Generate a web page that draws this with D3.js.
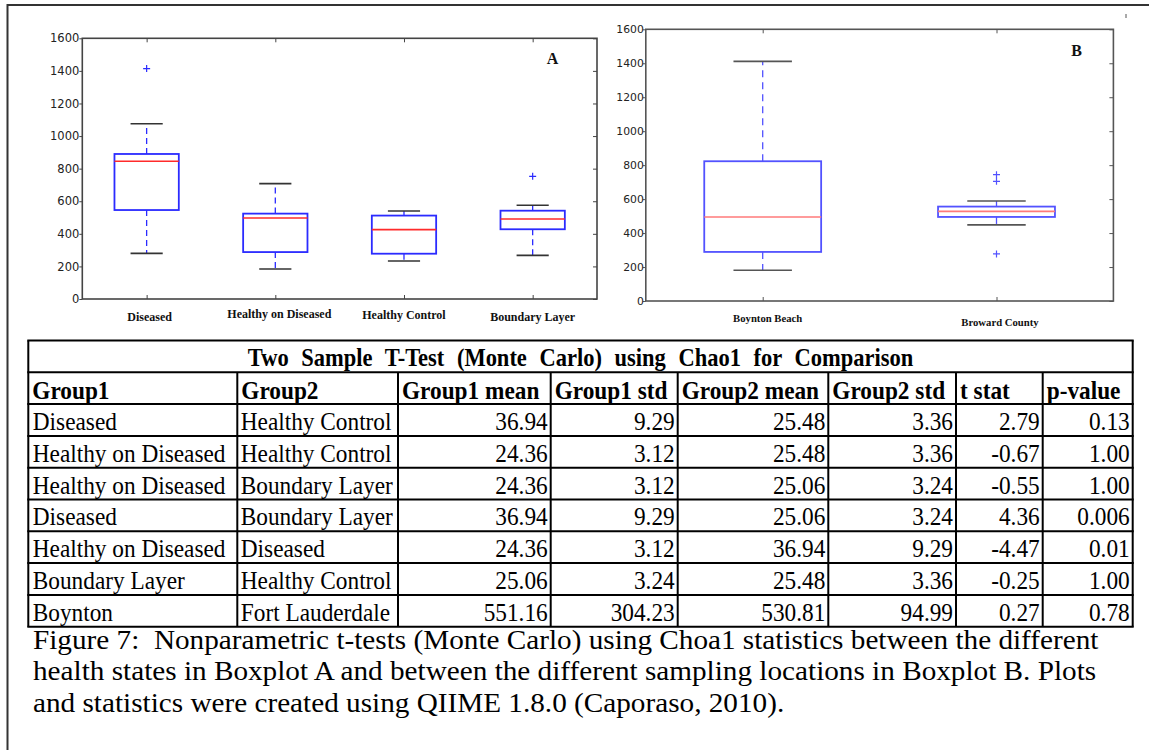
<!DOCTYPE html>
<html>
<head>
<meta charset="utf-8">
<script src="https://cdn.jsdelivr.net/npm/d3@7"></script>
<style>
  html, body { margin: 0; padding: 0; background: #fff; }
  svg { display: block; }
</style>
</head>
<body>
<svg id="chart" width="1149" height="750"></svg>
<script>
// ---------------- DATA ----------------
const yTicks = [0, 200, 400, 600, 800, 1000, 1200, 1400, 1600];

const panelACategories = ["Diseased", "Healthy on Diseased", "Healthy Control", "Boundary Layer"];
const panelAWhiskerLow  = [280, 184, 233, 268];
const panelAQ1          = [546, 288, 278, 428];
const panelAMedian      = [845, 497, 426, 491];
const panelAQ3          = [890, 524, 512, 542];
const panelAWhiskerHigh = [1076, 708, 540, 575];
const panelAOutliers    = [[1414], [], [], [753]];

const panelBCategories = ["Boynton Beach", "Broward County"];
const panelBWhiskerLow  = [181, 448];
const panelBQ1          = [289, 495];
const panelBMedian      = [495, 528];
const panelBQ3          = [823, 556];
const panelBWhiskerHigh = [1411, 589];
const panelBOutliers    = [[], [744, 705, 277]];

const tableTitle = "Two Sample T-Test (Monte Carlo) using Chao1 for Comparison";
const tableHeaders = ["Group1", "Group2", "Group1 mean", "Group1 std", "Group2 mean", "Group2 std", "t stat", "p-value"];
const tableGroup1 = ["Diseased", "Healthy on Diseased", "Healthy on Diseased", "Diseased", "Healthy on Diseased", "Boundary Layer", "Boynton"];
const tableGroup2 = ["Healthy Control", "Healthy Control", "Boundary Layer", "Boundary Layer", "Diseased", "Healthy Control", "Fort Lauderdale"];
const tableGroup1Mean = ["36.94", "24.36", "24.36", "36.94", "24.36", "25.06", "551.16"];
const tableGroup1Std  = ["9.29", "3.12", "3.12", "9.29", "3.12", "3.24", "304.23"];
const tableGroup2Mean = ["25.48", "25.48", "25.06", "25.06", "36.94", "25.48", "530.81"];
const tableGroup2Std  = ["3.36", "3.36", "3.24", "3.24", "9.29", "3.36", "94.99"];
const tableTStat      = ["2.79", "-0.67", "-0.55", "4.36", "-4.47", "-0.25", "0.27"];
const tablePValue     = ["0.13", "1.00", "1.00", "0.006", "0.01", "1.00", "0.78"];

const captionLines = [
  "Figure 7:  Nonparametric t-tests (Monte Carlo) using Choa1 statistics between the different",
  "health states in Boxplot A and between the different sampling locations in Boxplot B. Plots",
  "and statistics were created using QIIME 1.8.0 (Caporaso, 2010)."
];

// ---------------- LAYOUT ----------------
const svg = d3.select("#chart");
const SERIF = "'Liberation Serif', 'Times New Roman', serif";
const SANS = "'DejaVu Sans', sans-serif";

// outer frame
svg.append("line").attr("x1", 7.5).attr("x2", 1149).attr("y1", 5).attr("y2", 5)
  .attr("stroke", "#333").attr("stroke-width", 2);
svg.append("line").attr("x1", 7.5).attr("x2", 7.5).attr("y1", 4).attr("y2", 750)
  .attr("stroke", "#333").attr("stroke-width", 2);
svg.append("line").attr("x1", 1126).attr("x2", 1126).attr("y1", 14).attr("y2", 18)
  .attr("stroke", "#555").attr("stroke-width", 1);

function boxPanel(opts) {
  const g = svg.append("g");
  const n = opts.categories.length;
  const x = d3.scaleLinear().domain([0.5, n + 0.5]).range([opts.left, opts.right]);
  const y = d3.scaleLinear().domain([0, 1600]).range([opts.bottom, opts.top]);
  const unit = x(1) - x(0);

  g.append("rect").attr("x", opts.left).attr("y", opts.top)
    .attr("width", opts.right - opts.left).attr("height", opts.bottom - opts.top)
    .attr("fill", "none").attr("stroke", opts.axisColor).attr("stroke-width", 1.6);

  const idx = d3.range(1, n + 1);
  const la = g.append("g").attr("transform", `translate(${opts.left},0)`)
    .call(d3.axisLeft(y).tickValues(yTicks).tickSize(3).tickPadding(opts.tickPad).tickFormat(d3.format("d")));
  la.select(".domain").remove();
  la.selectAll("line").attr("stroke", opts.axisColor);
  la.selectAll("text").attr("font-family", SANS).attr("font-size", opts.tickFont).attr("fill", "#222");
  const ra = g.append("g").attr("transform", `translate(${opts.right},0)`)
    .call(d3.axisLeft(y).tickValues(yTicks).tickSize(4).tickFormat(""));
  ra.select(".domain").remove();
  ra.selectAll("line").attr("stroke", opts.axisColor);
  const ta = g.append("g").attr("transform", `translate(0,${opts.top})`)
    .call(d3.axisBottom(x).tickValues(idx).tickSize(4).tickFormat(""));
  ta.select(".domain").remove();
  ta.selectAll("line").attr("stroke", opts.axisColor);
  const ba = g.append("g").attr("transform", `translate(0,${opts.bottom})`)
    .call(d3.axisTop(x).tickValues(idx).tickSize(4).tickFormat(""));
  ba.select(".domain").remove();
  ba.selectAll("line").attr("stroke", opts.axisColor);

  const data = opts.categories.map((c, i) => ({
    pos: i + 1, lo: opts.lo[i], q1: opts.q1[i], med: opts.med[i], q3: opts.q3[i], hi: opts.hi[i], out: opts.out[i]
  }));
  const items = g.selectAll("g.box").data(data).join("g").attr("class", "box");
  items.append("line").attr("x1", d => x(d.pos)).attr("x2", d => x(d.pos))
    .attr("y1", d => y(d.q3)).attr("y2", d => y(d.hi))
    .attr("stroke", opts.whiskerColor).attr("stroke-width", 1.3).attr("stroke-dasharray", opts.dash);
  items.append("line").attr("x1", d => x(d.pos)).attr("x2", d => x(d.pos))
    .attr("y1", d => y(d.q1)).attr("y2", d => y(d.lo))
    .attr("stroke", opts.whiskerColor).attr("stroke-width", 1.3).attr("stroke-dasharray", opts.dash);
  ["lo", "hi"].forEach(k => {
    items.append("line").attr("x1", d => x(d.pos - 0.125)).attr("x2", d => x(d.pos + 0.125))
      .attr("y1", d => y(d[k])).attr("y2", d => y(d[k]))
      .attr("stroke", opts.capColor).attr("stroke-width", 1.6);
  });
  items.append("rect").attr("x", d => x(d.pos - 0.25)).attr("width", unit * 0.5)
    .attr("y", d => y(d.q3)).attr("height", d => y(d.q1) - y(d.q3))
    .attr("fill", "none").attr("stroke", opts.boxColor).attr("stroke-width", 1.8);
  items.append("line").attr("x1", d => x(d.pos - 0.25)).attr("x2", d => x(d.pos + 0.25))
    .attr("y1", d => y(d.med)).attr("y2", d => y(d.med))
    .attr("stroke", opts.medColor).attr("stroke-width", 1.6);
  items.each(function(d) {
    const s = d3.select(this);
    d.out.forEach(v => {
      s.append("path")
        .attr("d", `M${x(d.pos) - 3.5},${y(v)}H${x(d.pos) + 3.5}M${x(d.pos)},${y(v) - 3.5}V${y(v) + 3.5}`)
        .attr("stroke", opts.boxColor).attr("stroke-width", 1.2);
    });
  });
  g.selectAll("text.cat").data(opts.categories).join("text").attr("class", "cat")
    .attr("x", (d, i) => x(i + 1) + opts.labelShift[i])
    .attr("y", (d, i) => opts.labelY + opts.labelNudge[i])
    .attr("text-anchor", "middle").attr("font-family", SERIF).attr("font-weight", "bold")
    .attr("font-size", opts.labelFont).attr("fill", "#111").text(d => d);
  g.append("text").attr("x", opts.letterX).attr("y", opts.letterY).attr("text-anchor", "middle")
    .attr("font-family", SERIF).attr("font-weight", "bold").attr("font-size", 16).attr("fill", "#111")
    .text(opts.letter);
}

boxPanel({
  categories: panelACategories, lo: panelAWhiskerLow, q1: panelAQ1, med: panelAMedian, q3: panelAQ3,
  hi: panelAWhiskerHigh, out: panelAOutliers,
  left: 82.3, right: 597, top: 38.3, bottom: 299,
  axisColor: "#444", boxColor: "#2b2bff", whiskerColor: "#2b2bff", capColor: "#333", medColor: "#ff2b2b",
  tickFont: 11.5, tickPad: 0, labelFont: 12, labelY: 320.5, labelNudge: [0, -2.2, -1.5, 0.5], labelShift: [3, 4, 0, 0],
  letter: "A", letterX: 552.6, letterY: 64.3, dash: "6,4"
});
boxPanel({
  categories: panelBCategories, lo: panelBWhiskerLow, q1: panelBQ1, med: panelBMedian, q3: panelBQ3,
  hi: panelBWhiskerHigh, out: panelBOutliers,
  left: 645.8, right: 1113.4, top: 29.3, bottom: 301,
  axisColor: "#555", boxColor: "#5252ff", whiskerColor: "#5252ff", capColor: "#555", medColor: "#ff7a7a",
  tickFont: 10.8, tickPad: -1, labelFont: 10.7, labelY: 322.3, labelNudge: [0, 3.4], labelShift: [5, 3.5],
  letter: "B", letterX: 1076.7, letterY: 56, dash: "7,5"
});

// ---------------- TABLE ----------------
const colX = [28.3, 237.3, 398, 550.7, 677.7, 828.3, 956, 1042.7, 1132.7];
const rowTop = 340.5, rowH = 31.8;
const nRows = 2 + tableGroup1.length;
const tableBottom = rowTop + nRows * rowH;
const tg = svg.append("g");

d3.range(nRows + 1).forEach(r => {
  tg.append("line").attr("x1", colX[0] - 1).attr("x2", colX[8] + 1)
    .attr("y1", rowTop + r * rowH).attr("y2", rowTop + r * rowH)
    .attr("stroke", "#000").attr("stroke-width", 2);
});
colX.forEach((cx, i) => {
  const y0 = (i === 0 || i === colX.length - 1) ? rowTop : rowTop + rowH;
  tg.append("line").attr("x1", cx).attr("x2", cx).attr("y1", y0).attr("y2", tableBottom)
    .attr("stroke", "#000").attr("stroke-width", 2);
});

const STRETCH = 1.08;
function cellText(str, x, baseline, anchor, bold, size, extra) {
  const t = tg.append("text")
    .attr("transform", `translate(${x},${baseline}) scale(1,${STRETCH})`)
    .attr("text-anchor", anchor).attr("font-family", SERIF)
    .attr("font-weight", bold ? "bold" : "normal").attr("font-size", size).attr("fill", "#000")
    .style("white-space", "pre").text(str);
  if (extra) extra(t);
  return t;
}
cellText(tableTitle, (colX[0] + colX[8]) / 2, rowTop + rowH - 6.5, "middle", true, 22.5,
  t => t.attr("word-spacing", 7));
tableHeaders.forEach((h, i) => {
  cellText(h, colX[i] + 4, rowTop + 2 * rowH - 5.5, "start", true, 23.3);
});
const numericCols = [tableGroup1Mean, tableGroup1Std, tableGroup2Mean, tableGroup2Std, tableTStat, tablePValue];
tableGroup1.forEach((g1, r) => {
  const base = rowTop + (r + 3) * rowH - 6;
  cellText(g1, colX[0] + 4.5, base, "start", false, 23.3);
  cellText(tableGroup2[r], colX[1] + 3.5, base, "start", false, 23.3);
  numericCols.forEach((col, c) => {
    cellText(col[r], colX[c + 3] - 3, base, "end", false, 23.3);
  });
});

// ---------------- CAPTION ----------------
const capBase = [648.5, 680.3, 712];
captionLines.forEach((line, i) => {
  svg.append("text").attr("transform", `translate(33,${capBase[i]}) scale(1.063,1)`)
    .attr("font-family", SERIF).attr("font-size", 27.5).attr("fill", "#000")
    .style("white-space", "pre").text(line);
});
</script>
</body>
</html>
